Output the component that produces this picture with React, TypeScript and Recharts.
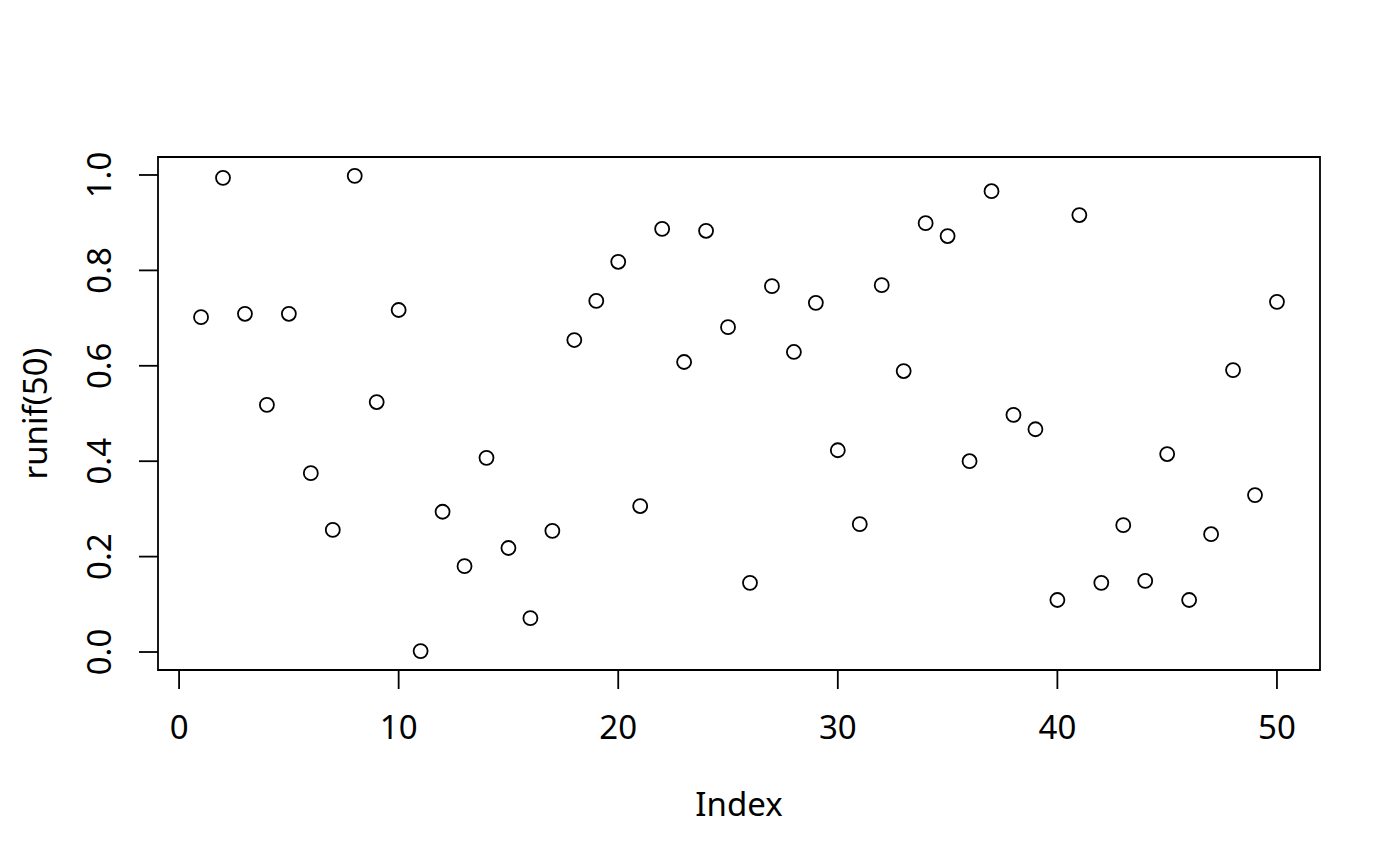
import { ScatterChart, Scatter, XAxis, YAxis, ReferenceArea, Label } from "recharts"

// index 1..50 and the runif(50) draws
const indexValues = [
  1, 2, 3, 4, 5, 6, 7, 8, 9, 10,
  11, 12, 13, 14, 15, 16, 17, 18, 19, 20,
  21, 22, 23, 24, 25, 26, 27, 28, 29, 30,
  31, 32, 33, 34, 35, 36, 37, 38, 39, 40,
  41, 42, 43, 44, 45, 46, 47, 48, 49, 50,
]
const runifValues = [
  0.702, 0.994, 0.709, 0.518, 0.709, 0.375, 0.256, 0.998, 0.524, 0.717,
  0.002, 0.294, 0.180, 0.407, 0.218, 0.071, 0.254, 0.654, 0.736, 0.818,
  0.306, 0.887, 0.608, 0.883, 0.681, 0.145, 0.767, 0.629, 0.732, 0.423,
  0.268, 0.769, 0.589, 0.899, 0.872, 0.400, 0.966, 0.497, 0.467, 0.109,
  0.916, 0.145, 0.266, 0.149, 0.415, 0.109, 0.247, 0.591, 0.329, 0.734,
]
const xTicks = [0, 10, 20, 30, 40, 50]
const yTicks = [0, 0.2, 0.4, 0.6, 0.8, 1.0]

const points = indexValues.map((x, i) => ({ x, y: runifValues[i] }))

// R pads the data range by 4% on each side
const xMin = -0.96
const xMax = 51.96
const yMin = -0.0377
const yMax = 1.0377

const FONT = "'Noto Sans', 'Open Sans', sans-serif"
const FS = 33

const XTick = (props: any) => {
  const { x, y, payload } = props
  return (
    <text x={x} y={y + 50} textAnchor="middle" fontSize={FS} fontFamily={FONT} fill="#000">
      {payload.value}
    </text>
  )
}

const YTick = (props: any) => {
  const { x, y, payload } = props
  const bx = x - 28
  return (
    <text
      x={bx}
      y={y}
      transform={`rotate(-90, ${bx}, ${y})`}
      textAnchor="middle"
      fontSize={FS}
      fontFamily={FONT}
      fill="#000"
    >
      {Number(payload.value).toFixed(1)}
    </text>
  )
}

const XLabel = (props: any) => {
  const { viewBox } = props
  return (
    <text
      x={viewBox.x + viewBox.width / 2}
      y={816}
      textAnchor="middle"
      fontSize={FS}
      fontFamily={FONT}
      fill="#000"
    >
      Index
    </text>
  )
}

const YLabel = (props: any) => {
  const { viewBox } = props
  const cy = viewBox.y + viewBox.height / 2
  return (
    <text
      x={47}
      y={cy}
      transform={`rotate(-90, 47, ${cy})`}
      textAnchor="middle"
      fontSize={FS}
      fontFamily={FONT}
      fill="#000"
    >
      runif(50)
    </text>
  )
}

const OpenCircle = (props: any) => {
  const { cx, cy } = props
  return <circle cx={cx} cy={cy} r={7} fill="none" stroke="#000" strokeWidth={1.8} />
}

export default function App() {
  return (
    <div style={{ position: "absolute", left: 0, top: 0, background: "#fff" }}>
      <ScatterChart
        width={1400}
        height={866}
        margin={{ top: 157, right: 80, bottom: 0, left: 0 }}
      >
        <XAxis
          type="number"
          dataKey="x"
          domain={[xMin, xMax]}
          ticks={xTicks}
          allowDataOverflow
          height={196}
          axisLine={false}
          tickSize={19}
          tickMargin={0}
          tickLine={{ stroke: "#000", strokeWidth: 1.8 }}
          tick={<XTick />}
          interval={0}
        >
          <Label content={<XLabel />} />
        </XAxis>
        <YAxis
          type="number"
          dataKey="y"
          domain={[yMin, yMax]}
          ticks={yTicks}
          allowDataOverflow
          width={158}
          axisLine={false}
          tickSize={19}
          tickMargin={0}
          tickLine={{ stroke: "#000", strokeWidth: 1.8 }}
          tick={<YTick />}
          interval={0}
        >
          <Label content={<YLabel />} />
        </YAxis>
        <ReferenceArea
          x1={xMin}
          x2={xMax}
          y1={yMin}
          y2={yMax}
          fill="none"
          stroke="#000"
          strokeWidth={1.8}
          ifOverflow="visible"
        />
        <Scatter data={points} shape={<OpenCircle />} isAnimationActive={false} />
      </ScatterChart>
    </div>
  )
}
